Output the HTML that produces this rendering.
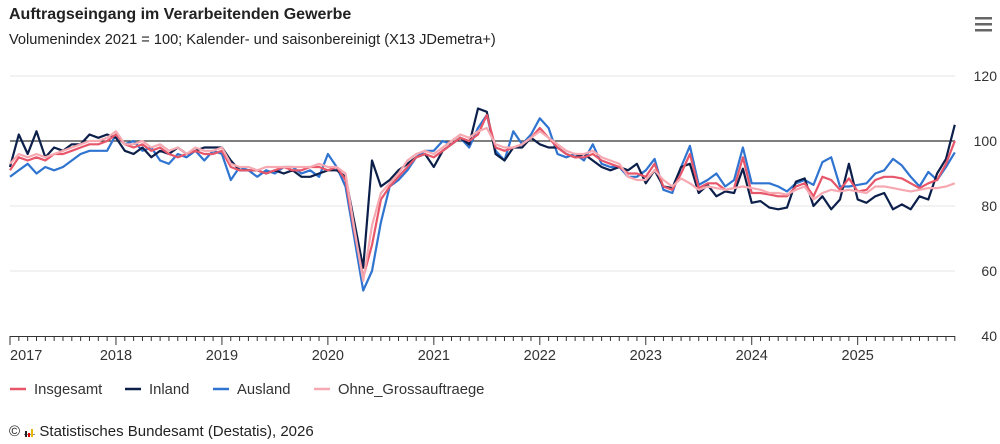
<!DOCTYPE html>
<html><head><meta charset="utf-8"><style>
body{margin:0;background:#fff;font-family:"Liberation Sans",sans-serif;}
#w{position:relative;width:1000px;height:444px;overflow:hidden}
.t{position:absolute;left:9px;top:6px;font-size:16px;font-weight:bold;color:#222}
.s{position:absolute;left:9px;top:32px;font-size:14.6px;color:#222}
.f{position:absolute;left:9px;top:423px;font-size:15px;color:#222}
</style></head><body><div id="w">
<div class="t">Auftragseingang im Verarbeitenden Gewerbe</div>
<div class="s">Volumenindex 2021 = 100; Kalender- und saisonbereinigt (X13 JDemetra+)</div>
<div class="f">© <span style="display:inline-block;width:11px;height:10px;border-bottom:1px solid #888;vertical-align:-1px"><span style="display:inline-block;width:2px;height:6px;background:#222;margin-left:1px"></span><span style="display:inline-block;width:2px;height:4px;background:#d00;margin-left:1px"></span><span style="display:inline-block;width:2px;height:8px;background:#e8b800;margin-left:1px"></span></span> Statistisches Bundesamt (Destatis), 2026</div>
<svg id="c" width="1000" height="444" style="position:absolute;left:0;top:0" font-family="Liberation Sans, sans-serif"></svg>
</div>
<script>
var S={
ins:[91,95,94,95,94,96,96,97,98,99,99,100, 102,99,98,99,97,98,96,95,96,97,96,96, 97,92,91,91,91,90,91,92,91,91,92,92, 91,92,88,72,58,68,82,86,89,92,95,96, 95,97,99,101,100,102,108,98,97,98,99,101, 104,101,98,96,95,95,96,94,93,92,
 90,90,89,93,86,85,90,96,85.5,87,87,85,85.5,95,84,84,83.5,83,83,86,87,83,89,88,85,88.5,84.5,85,88,89,89,88.5,87,85.5,87,88,93,100],
inl:[92,102,96,103,95,98,97,99,99,102,101,102, 101,97,96,98,95,97,96,98,96,97,98,98, 98,94,91,91,91,90,91,90,91,89,89,90, 91,91,89,75,61,94,86,88,91,93,95,96, 92,97,99,101,99,110,109,96,94,98,98,101, 99,98,98,96,95,96,94,92,91,92,
 91,93,87,91,86,85.5,92,93,84,86.5,83,84.5,84,91.5,81,81.5,79.5,79,79.5,87.5,88.5,80,83,79,82,93,82,81,83,84,79,80.5,79,83,82,90,94.5,105],
aus:[89,91,93,90,92,91,92,94,96,97,97,97, 102,99,100,97,98,94,93,96,95,97,94,97, 96,88,92,91,89,91,90,92,92,90,91,89, 96,92,86,70,54,60,75,86,88,91,95,97, 97,100,99,101,98,104,108,97,94,103,99,102, 107,104,96,95,96,94,99,93,92,92,
 89,89,91,94.5,85,84,92,98.5,86.5,88,90,86,88,98,87,87,87,86,84.5,87,88,86.5,93.5,95,86,86,86.5,87,90,91,94.5,92.5,89,86,90.5,88,92,96.5],
ohne:[93,96,95,96,95,96,97,98,99,100,100,101, 103,99,99,100,98,99,97,98,96,98,97,97, 98,93,92,92,91,92,92,92,92,92,92,93, 92,92,90,73,57,74,84,87,90,94,96,97, 96,98,100,102,101,103,104,99,98,98,99,101, 103,101,99,97,96,96,97,95,94,93,
 89,88,88,91,88,86,88.5,87,85,86,85.5,85,85.5,86,85.5,85,84,84,83.5,85,86,82,84,85,84.5,85,84.5,84,86,86,85.5,85,84.5,85,85.5,85.5,86,87]};
function X(i){return 10+i*8.83}function Y(v){return 336-(v-40)*3.25}
var h='';
[120,80,60].forEach(function(v){h+='<line x1="10" x2="955" y1="'+Y(v)+'" y2="'+Y(v)+'" stroke="#e6e6e6"/>';});
[120,100,80,60,40].forEach(function(v){h+='<text x="997" y="'+(Y(v)+5)+'" text-anchor="end" font-size="14" fill="#333">'+v+'</text>';});
h+='<line x1="10" x2="955" y1="141" y2="141" stroke="#333" stroke-width="1.2"/>';
h+='<line x1="10" x2="955" y1="336.5" y2="336.5" stroke="#333"/>';
for(var m=0;m<108;m++){var big=m%12==0;h+='<line x1="'+X(m)+'" x2="'+X(m)+'" y1="336" y2="'+(big?345:341)+'" stroke="#333"/>';if(big)h+='<text x="'+(m==0?10:X(m))+'" y="360" text-anchor="'+(m==0?'start':'middle')+'" font-size="14.5" fill="#333">'+(2017+m/12)+'</text>';}
var cols={ohne:'#f6a9b0',aus:'#2f74d0',inl:'#0b1f4a',ins:'#e8566a'};
['aus','inl','ins','ohne'].forEach(function(k){var p=S[k].map(function(v,i){return X(i).toFixed(1)+','+Y(v).toFixed(1)}).join(' ');h+='<polyline points="'+p+'" fill="none" stroke="'+cols[k]+'" stroke-width="2.2" stroke-linejoin="round"/>';});
var L=[['Insgesamt','#e8566a',10],['Inland','#0b1f4a',125],['Ausland','#2f74d0',213],['Ohne_Grossauftraege','#f6a9b0',314]];
L.forEach(function(l){h+='<line x1="'+l[2]+'" x2="'+(l[2]+16)+'" y1="389" y2="389" stroke="'+l[1]+'" stroke-width="2.5"/><text x="'+(l[2]+24)+'" y="394" font-size="14.8" fill="#333">'+l[0]+'</text>';});
h+='<rect x="975" y="17" width="17" height="2.5" fill="#666"/><rect x="975" y="23" width="17" height="2.5" fill="#666"/><rect x="975" y="29" width="17" height="2.5" fill="#666"/>';
document.getElementById('c').innerHTML=h;
</script></body></html>
